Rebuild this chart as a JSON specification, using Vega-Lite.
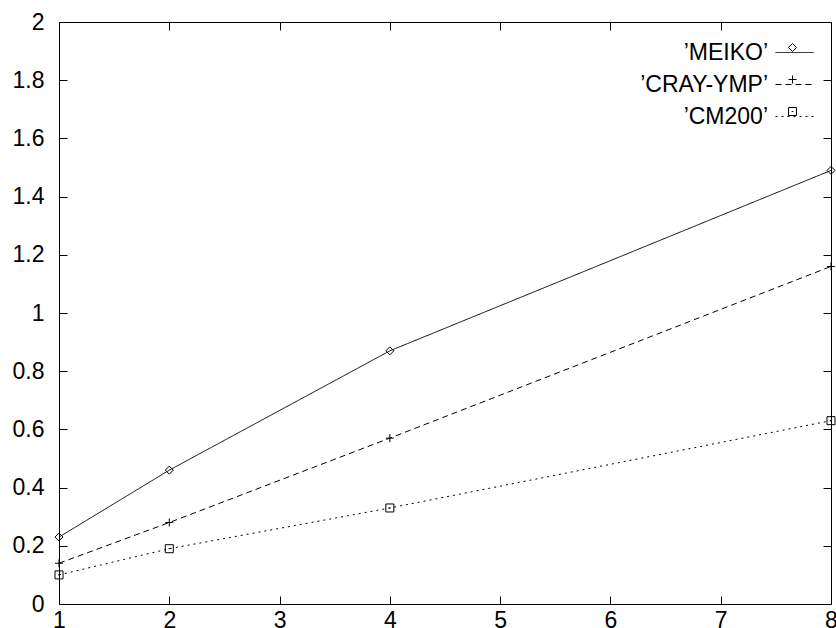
{
  "$schema": "https://vega.github.io/schema/vega-lite/v6.json",
  "width": 772,
  "height": 582,
  "autosize": "none",
  "padding": {"left": 59, "top": 22, "right": 5, "bottom": 24},
  "background": "white",
  "config": {
    "font": "Liberation Sans",
    "view": {"stroke": "black", "strokeWidth": 1},
    "axis": {
      "domain": false,
      "grid": false,
      "ticks": true,
      "tickColor": "black",
      "tickSize": -8,
      "tickWidth": 1,
      "labelFont": "Liberation Sans",
      "labelFontSize": 23,
      "labelColor": "black",
      "title": null
    },
    "legend": {
      "labelFont": "Liberation Sans",
      "labelFontSize": 23,
      "labelColor": "black",
      "title": null
    }
  },
  "data": {
    "values": [
      {"procs": 1, "series": "MEIKO", "time": 0.23},
      {"procs": 2, "series": "MEIKO", "time": 0.46},
      {"procs": 4, "series": "MEIKO", "time": 0.87},
      {"procs": 8, "series": "MEIKO", "time": 1.49},
      {"procs": 1, "series": "CRAY-YMP", "time": 0.14},
      {"procs": 2, "series": "CRAY-YMP", "time": 0.28},
      {"procs": 4, "series": "CRAY-YMP", "time": 0.57},
      {"procs": 8, "series": "CRAY-YMP", "time": 1.16},
      {"procs": 1, "series": "CM200", "time": 0.10},
      {"procs": 2, "series": "CM200", "time": 0.19},
      {"procs": 4, "series": "CM200", "time": 0.33},
      {"procs": 8, "series": "CM200", "time": 0.63}
    ]
  },
  "layer": [
    {
      "mark": {"type": "line", "color": "black", "strokeWidth": 1},
      "encoding": {
        "x": {
          "field": "procs", "type": "quantitative",
          "scale": {"domain": [1, 8], "nice": false, "zero": false},
          "axis": {"orient": "bottom", "values": [1, 2, 3, 4, 5, 6, 7, 8], "labelPadding": 13, "labelFlush": false}
        },
        "y": {
          "field": "time", "type": "quantitative",
          "scale": {"domain": [0, 2], "nice": false},
          "axis": {"orient": "left", "values": [0, 0.2, 0.4, 0.6, 0.8, 1, 1.2, 1.4, 1.6, 1.8, 2], "format": "~g", "labelPadding": 23, "labelFlush": false}
        },
        "strokeDash": {
          "field": "series", "type": "nominal",
          "scale": {"domain": ["MEIKO", "CRAY-YMP", "CM200"], "range": [[1, 0], [6, 4], [2, 4]]},
          "legend": {
            "orient": "none",
            "legendX": 716,
            "legendY": 11,
            "symbolType": "stroke",
            "symbolSize": 1444,
            "symbolStrokeWidth": 1,
            "symbolStrokeColor": "black",
            "labelAlign": "right",
            "labelOffset": -46,
            "rowPadding": -9,
            "labelExpr": "'’' + datum.label + '’'"
          }
        }
      }
    },
    {
      "mark": {"type": "point", "filled": false, "color": "black", "strokeWidth": 1, "size": 64, "opacity": 1},
      "encoding": {
        "x": {
          "field": "procs", "type": "quantitative",
          "axis": {"orient": "top", "values": [1, 2, 3, 4, 5, 6, 7, 8], "labels": false}
        },
        "y": {
          "field": "time", "type": "quantitative",
          "axis": {"orient": "right", "values": [0, 0.2, 0.4, 0.6, 0.8, 1, 1.2, 1.4, 1.6, 1.8, 2], "labels": false}
        },
        "shape": {
          "field": "series", "type": "nominal",
          "sort": ["MEIKO", "CRAY-YMP", "CM200"],
          "scale": {
            "range": ["M0,-1L1,0L0,1L-1,0Z", "M-1,0L1,0M0,-1L0,1", "M-1,-1L1,-1L1,1L-1,1ZM-0.2,0L0.2,0"]
          },
          "legend": {
            "orient": "none",
            "legendX": 722,
            "legendY": 14,
            "symbolSize": 64,
            "symbolStrokeWidth": 1,
            "symbolStrokeColor": "black",
            "symbolFillColor": "white",
            "labelExpr": "''",
            "labelAlign": "right",
            "labelOffset": -45,
            "rowPadding": 8
          }
        }
      }
    }
  ],
  "resolve": {"axis": {"x": "independent", "y": "independent"}}
}
